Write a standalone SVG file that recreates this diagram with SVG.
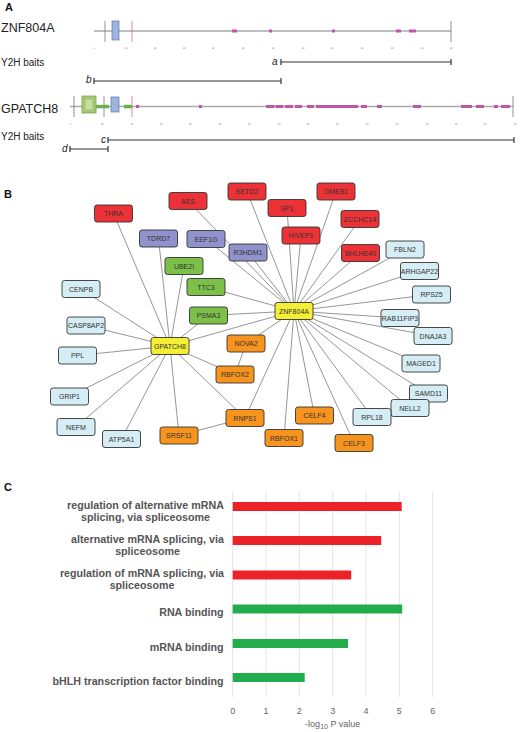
<svg xmlns="http://www.w3.org/2000/svg" width="520" height="732" viewBox="0 0 520 732">
<style>
.lbl{font-family:"Liberation Sans",Arial,sans-serif;fill:#222}
.panel{font-family:"Liberation Sans",Arial,sans-serif;font-weight:bold;font-size:11px;fill:#111}
.prot{stroke:#aaa;stroke-width:1.5}
.vb{stroke:#777;stroke-width:0.8}
.vr{stroke:#e07070;stroke-width:0.8}
.mg{fill:#c055a8}
.gs{fill:#6ab04c}
.zf{fill:#9db4e0;stroke:#5a78b0;stroke-width:0.7}
.tk{fill:#aaa}
.bait{stroke:#333;stroke-width:1.2;fill:none}
.it{font-family:"Liberation Sans",Arial,sans-serif;font-style:italic;font-size:10px;fill:#222}
.edge line{stroke:#8a8a8a;stroke-width:0.9}
.n rect{stroke:#333;stroke-width:0.9;rx:2.5}
.n text{font-family:"Liberation Sans",Arial,sans-serif;font-size:7px;fill:#333;text-anchor:middle}
.red rect{fill:#ec3237}
.pur rect{fill:#9191cb}
.grn rect{fill:#7cc04a}
.yel rect{fill:#f4ee35}
.org rect{fill:#f7941e}
.blu rect{fill:#d5edf4}
.go{font-family:"Liberation Sans",Arial,sans-serif;font-weight:bold;font-size:10.7px;fill:#555}
.grid{stroke:#ddd;stroke-width:0.8}
.ax{font-family:"Liberation Sans",Arial,sans-serif;font-size:9px;fill:#666;text-anchor:middle}
</style>

<!-- Panel A -->
<g id="panelA">
<text class="panel" x="5" y="11">A</text>
<text class="lbl" x="1" y="32" font-size="12.5">ZNF804A</text>
<line class="prot" x1="94" y1="31" x2="451" y2="31"/>
<line class="vb" x1="105" y1="21" x2="105" y2="42"/>
<line class="vr" x1="132" y1="21" x2="132" y2="42"/>
<line class="vb" x1="451" y1="21" x2="451" y2="42"/>
<rect class="zf" x="112" y="21" width="7" height="19"/>
<rect class="mg" x="232" y="29.5" width="5" height="3"/>
<rect class="mg" x="269" y="29.5" width="3" height="3"/>
<rect class="mg" x="332" y="29.5" width="3" height="3"/>
<rect class="mg" x="396" y="29.5" width="5" height="3"/>
<rect class="mg" x="409" y="29.5" width="7" height="3"/>
<g class="tk">
<rect x="94" y="47.6" width="1" height="1"/><rect x="125" y="47.6" width="2.5" height="1"/><rect x="154" y="47.6" width="2.5" height="1"/><rect x="183" y="47.6" width="2.5" height="1"/><rect x="212" y="47.6" width="2.5" height="1"/><rect x="242" y="47.6" width="2.5" height="1"/><rect x="272" y="47.6" width="2.5" height="1"/><rect x="302" y="47.6" width="2.5" height="1"/><rect x="331" y="47.6" width="2.5" height="1"/><rect x="361" y="47.6" width="2.5" height="1"/><rect x="391" y="47.6" width="2.5" height="1"/><rect x="421" y="47.6" width="2.5" height="1"/><rect x="450" y="47.6" width="2.5" height="1"/>
</g>
<text class="lbl" x="1" y="66" font-size="10">Y2H baits</text>
<text class="it" x="272" y="64.5">a</text>
<path class="bait" d="M281 62H451M281 59V65M451 59V65"/>
<text class="it" x="86" y="83">b</text>
<path class="bait" d="M94 81H281M94 78V84M281 78V84"/>

<text class="lbl" x="1" y="112.5" font-size="12.5">GPATCH8</text>
<line class="prot" x1="70" y1="106.5" x2="513" y2="106.5"/>
<line class="vb" x1="74" y1="96" x2="74" y2="117"/>
<line class="vb" x1="104" y1="96" x2="104" y2="117"/>
<line class="vr" x1="132" y1="96" x2="132" y2="117"/>
<line class="vb" x1="513" y1="96" x2="513" y2="117"/>
<rect class="gs" x="96" y="104.8" width="13" height="3.5"/>
<rect class="gs" x="124" y="104.8" width="8" height="3.5"/>
<rect x="82" y="96" width="14" height="17" fill="#a9c979" stroke="#6a9a3a" stroke-width="0.7"/>
<rect x="85" y="99" width="8" height="11" fill="#c4dc9c" stroke="#7aa84a" stroke-width="0.4"/>
<rect class="zf" x="111" y="97" width="8" height="15"/>
<g class="mg">
<rect x="136" y="105" width="3" height="3"/><rect x="199" y="105" width="3" height="3"/>
<rect x="266" y="105" width="8.5" height="3"/><rect x="275.5" y="105" width="8" height="3"/><rect x="285" y="105" width="8" height="3"/><rect x="295" y="105" width="7" height="3"/>
<rect x="307" y="105" width="7" height="3"/><rect x="316" y="105" width="42" height="3"/><rect x="361" y="105" width="6" height="3"/><rect x="377" y="105" width="5" height="3"/><rect x="413" y="105" width="8" height="3"/><rect x="461" y="105" width="11" height="3"/><rect x="476" y="105" width="8" height="3"/><rect x="494" y="105" width="4" height="3"/><rect x="501" y="105" width="9" height="3"/>
</g>
<g class="tk">
<rect x="70" y="123.6" width="1" height="1"/><rect x="101" y="123.6" width="2.5" height="1"/><rect x="131" y="123.6" width="2.5" height="1"/><rect x="160" y="123.6" width="2.5" height="1"/><rect x="189" y="123.6" width="2.5" height="1"/><rect x="219" y="123.6" width="2.5" height="1"/><rect x="248" y="123.6" width="2.5" height="1"/><rect x="278" y="123.6" width="2.5" height="1"/><rect x="307" y="123.6" width="2.5" height="1"/><rect x="336" y="123.6" width="2.5" height="1"/><rect x="366" y="123.6" width="2.5" height="1"/><rect x="396" y="123.6" width="2.5" height="1"/><rect x="426" y="123.6" width="2.5" height="1"/><rect x="455" y="123.6" width="2.5" height="1"/><rect x="484" y="123.6" width="2.5" height="1"/><rect x="514" y="123.6" width="2.5" height="1"/>
</g>
<text class="lbl" x="1" y="140" font-size="10">Y2H baits</text>
<text class="it" x="101" y="143">c</text>
<path class="bait" d="M108 140H514M108 137V143M514 137V143"/>
<text class="it" x="62" y="152">d</text>
<path class="bait" d="M70 149H108M70 146V152M108 146V152"/>
</g>

<!-- Panel B -->
<text class="panel" x="4" y="198">B</text>
<g id="connectors" class="edge">
<line x1="170" y1="346" x2="113.5" y2="213.5"/>
<line x1="170" y1="346" x2="158.5" y2="238.5"/>
<line x1="170" y1="346" x2="184" y2="266"/>
<line x1="170" y1="346" x2="208.5" y2="315.5"/>
<line x1="170" y1="346" x2="81" y2="289"/>
<line x1="170" y1="346" x2="86" y2="325.5"/>
<line x1="170" y1="346" x2="77.5" y2="355.5"/>
<line x1="170" y1="346" x2="69.5" y2="396.5"/>
<line x1="170" y1="346" x2="76" y2="427"/>
<line x1="170" y1="346" x2="121.5" y2="439"/>
<line x1="170" y1="346" x2="179" y2="435.5"/>
<line x1="170" y1="346" x2="245" y2="418"/>
<line x1="170" y1="346" x2="235" y2="374.5"/>
<line x1="170" y1="346" x2="294" y2="311"/>
<line x1="179" y1="435.5" x2="245" y2="418"/>
<line x1="235" y1="374.5" x2="246" y2="343.5"/>
<line x1="294" y1="311" x2="188" y2="201"/>
<line x1="294" y1="311" x2="247" y2="191.5"/>
<line x1="294" y1="311" x2="206" y2="239"/>
<line x1="294" y1="311" x2="248" y2="252.5"/>
<line x1="294" y1="311" x2="287" y2="208"/>
<line x1="294" y1="311" x2="301" y2="235.5"/>
<line x1="294" y1="311" x2="336" y2="191.5"/>
<line x1="294" y1="311" x2="360" y2="219"/>
<line x1="294" y1="311" x2="360.5" y2="253"/>
<line x1="294" y1="311" x2="405" y2="249.5"/>
<line x1="294" y1="311" x2="419.5" y2="271"/>
<line x1="294" y1="311" x2="431.5" y2="294.5"/>
<line x1="294" y1="311" x2="400" y2="318"/>
<line x1="294" y1="311" x2="433" y2="336"/>
<line x1="294" y1="311" x2="421" y2="363.5"/>
<line x1="294" y1="311" x2="428.5" y2="393.5"/>
<line x1="294" y1="311" x2="410" y2="408"/>
<line x1="294" y1="311" x2="372" y2="417"/>
<line x1="294" y1="311" x2="354" y2="443"/>
<line x1="294" y1="311" x2="314.5" y2="415.5"/>
<line x1="294" y1="311" x2="284" y2="438"/>
<line x1="294" y1="311" x2="245" y2="418"/>
<line x1="294" y1="311" x2="246" y2="343.5"/>
<line x1="294" y1="311" x2="206" y2="287"/>
<line x1="294" y1="311" x2="208.5" y2="315.5"/>
</g>

<g id="THRA" class="n red"><rect x="94.5" y="205" width="38" height="17"/><text x="113.5" y="216">THRA</text></g>
<g id="AES" class="n red"><rect x="169" y="192.5" width="38" height="17"/><text x="188" y="203.5">AES</text></g>
<g id="SETD2" class="n red"><rect x="228" y="183" width="38" height="17"/><text x="247" y="194">SETD2</text></g>
<g id="SP1" class="n red"><rect x="268" y="199.5" width="38" height="17"/><text x="287" y="210.5">SP1</text></g>
<g id="GMEB1" class="n red"><rect x="317" y="183" width="38" height="17"/><text x="336" y="194">GMEB1</text></g>
<g id="HIVEP1" class="n red"><rect x="282" y="227" width="38" height="17"/><text x="301" y="238">HIVEP1</text></g>
<g id="ZCCHC14" class="n red"><rect x="341" y="210.5" width="38" height="17"/><text x="360" y="221.5">ZCCHC14</text></g>
<g id="BHLHE40" class="n red"><rect x="341.5" y="244.5" width="38" height="17"/><text x="360.5" y="255.5">BHLHE40</text></g>
<g id="TDRD7" class="n pur"><rect x="139.5" y="230" width="38" height="17"/><text x="158.5" y="241">TDRD7</text></g>
<g id="EEF1G" class="n pur"><rect x="187" y="230.5" width="38" height="17"/><text x="206" y="241.5">EEF1G</text></g>
<g id="R3HDM1" class="n pur"><rect x="229" y="244" width="38" height="17"/><text x="248" y="255">R3HDM1</text></g>
<g id="UBE2I" class="n grn"><rect x="165" y="257.5" width="38" height="17"/><text x="184" y="268.5">UBE2I</text></g>
<g id="TTC3" class="n grn"><rect x="187" y="278.5" width="38" height="17"/><text x="206" y="289.5">TTC3</text></g>
<g id="PSMA3" class="n grn"><rect x="189.5" y="307" width="38" height="17"/><text x="208.5" y="318">PSMA3</text></g>
<g id="GPATCH8" class="n yel"><rect x="151" y="337.5" width="38" height="17"/><text x="170" y="348.5">GPATCH8</text></g>
<g id="ZNF804A" class="n yel"><rect x="275" y="302.5" width="38" height="17"/><text x="294" y="313.5">ZNF804A</text></g>
<g id="NOVA2" class="n org"><rect x="227" y="335" width="38" height="17"/><text x="246" y="346">NOVA2</text></g>
<g id="RBFOX2" class="n org"><rect x="216" y="366" width="38" height="17"/><text x="235" y="377">RBFOX2</text></g>
<g id="RNPS1" class="n org"><rect x="226" y="409.5" width="38" height="17"/><text x="245" y="420.5">RNPS1</text></g>
<g id="SRSF11" class="n org"><rect x="160" y="427" width="38" height="17"/><text x="179" y="438">SRSF11</text></g>
<g id="RBFOX1" class="n org"><rect x="265" y="429.5" width="38" height="17"/><text x="284" y="440.5">RBFOX1</text></g>
<g id="CELF4" class="n org"><rect x="295.5" y="407" width="38" height="17"/><text x="314.5" y="418">CELF4</text></g>
<g id="CELF3" class="n org"><rect x="335" y="434.5" width="38" height="17"/><text x="354" y="445.5">CELF3</text></g>
<g id="CENPB" class="n blu"><rect x="62" y="280.5" width="38" height="17"/><text x="81" y="291.5">CENPB</text></g>
<g id="CASP8AP2" class="n blu"><rect x="67" y="317" width="38" height="17"/><text x="86" y="328">CASP8AP2</text></g>
<g id="PPL" class="n blu"><rect x="58.5" y="347" width="38" height="17"/><text x="77.5" y="358">PPL</text></g>
<g id="GRIP1" class="n blu"><rect x="50.5" y="388" width="38" height="17"/><text x="69.5" y="399">GRIP1</text></g>
<g id="NEFM" class="n blu"><rect x="57" y="418.5" width="38" height="17"/><text x="76" y="429.5">NEFM</text></g>
<g id="ATP5A1" class="n blu"><rect x="102.5" y="430.5" width="38" height="17"/><text x="121.5" y="441.5">ATP5A1</text></g>
<g id="FBLN2" class="n blu"><rect x="386" y="241" width="38" height="17"/><text x="405" y="252">FBLN2</text></g>
<g id="ARHGAP22" class="n blu"><rect x="400.5" y="262.5" width="38" height="17"/><text x="419.5" y="273.5">ARHGAP22</text></g>
<g id="RPS25" class="n blu"><rect x="412.5" y="286" width="38" height="17"/><text x="431.5" y="297">RPS25</text></g>
<g id="RAB11FIP3" class="n blu"><rect x="381" y="309.5" width="38" height="17"/><text x="400" y="320.5">RAB11FIP3</text></g>
<g id="DNAJA3" class="n blu"><rect x="414" y="327.5" width="38" height="17"/><text x="433" y="338.5">DNAJA3</text></g>
<g id="MAGED1" class="n blu"><rect x="402" y="355" width="38" height="17"/><text x="421" y="366">MAGED1</text></g>
<g id="SAMD11" class="n blu"><rect x="409.5" y="385" width="38" height="17"/><text x="428.5" y="396">SAMD11</text></g>
<g id="NELL2" class="n blu"><rect x="391" y="399.5" width="38" height="17"/><text x="410" y="410.5">NELL2</text></g>
<g id="RPL18" class="n blu"><rect x="353" y="408.5" width="38" height="17"/><text x="372" y="419.5">RPL18</text></g>

<!-- Panel C -->
<g id="panelC">
<text class="panel" x="4" y="491">C</text>
<g class="grid">
<line x1="232.7" y1="492" x2="232.7" y2="697"/>
<line x1="266" y1="492" x2="266" y2="697"/>
<line x1="299.3" y1="492" x2="299.3" y2="697"/>
<line x1="332.7" y1="492" x2="332.7" y2="697"/>
<line x1="366" y1="492" x2="366" y2="697"/>
<line x1="399.3" y1="492" x2="399.3" y2="697"/>
<line x1="432.7" y1="492" x2="432.7" y2="697"/>
</g>
<rect x="232.7" y="502" width="169" height="9" fill="#ec2228"/>
<rect x="232.7" y="536" width="148.5" height="9" fill="#ec2228"/>
<rect x="232.7" y="570.5" width="118.5" height="9" fill="#ec2228"/>
<rect x="232.7" y="604.5" width="169.5" height="9" fill="#21ad4b"/>
<rect x="232.7" y="639" width="115.3" height="9" fill="#21ad4b"/>
<rect x="232.7" y="673" width="72" height="9" fill="#21ad4b"/>
<text class="go" x="145.5" y="509" text-anchor="middle">regulation of alternative mRNA</text>
<text class="go" x="145.5" y="520.5" text-anchor="middle">splicing, via spliceosome</text>
<text class="go" x="147.5" y="543" text-anchor="middle">alternative mRNA splicing, via</text>
<text class="go" x="147.5" y="554.5" text-anchor="middle">spliceosome</text>
<text class="go" x="142" y="577" text-anchor="middle">regulation of mRNA splicing, via</text>
<text class="go" x="142" y="588.5" text-anchor="middle">spliceosome</text>
<text class="go" x="223.5" y="615.7" text-anchor="end">RNA binding</text>
<text class="go" x="223.5" y="651" text-anchor="end">mRNA binding</text>
<text class="go" x="223.5" y="685" text-anchor="end">bHLH transcription factor binding</text>
<text class="ax" x="232.7" y="714">0</text>
<text class="ax" x="266" y="714">1</text>
<text class="ax" x="299.3" y="714">2</text>
<text class="ax" x="332.7" y="714">3</text>
<text class="ax" x="366" y="714">4</text>
<text class="ax" x="399.3" y="714">5</text>
<text class="ax" x="432.7" y="714">6</text>
<text class="ax" x="332.7" y="727" font-size="11">-log<tspan font-size="7" dy="2">10</tspan><tspan dy="-2"> P value</tspan></text>
</g>
</svg>
